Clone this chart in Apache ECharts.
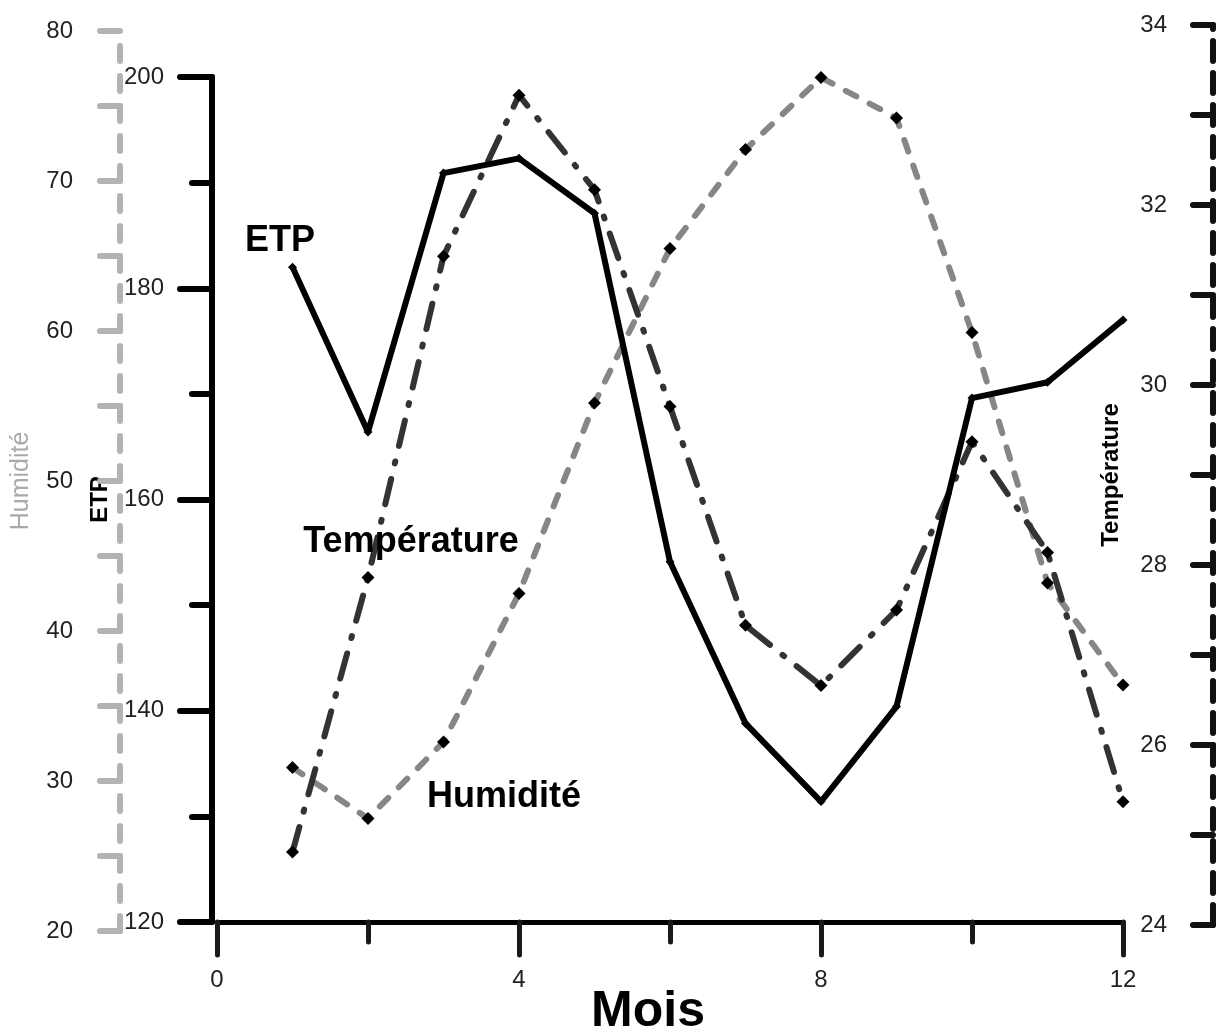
<!DOCTYPE html>
<html><head><meta charset="utf-8">
<script src="https://cdn.jsdelivr.net/npm/echarts@6/dist/echarts.min.js"></script>
<style>html,body{margin:0;padding:0;background:#fff}#c{width:1216px;height:1032px}</style>
</head><body><div id="c"></div>
<script>
// ---- data ----
const months = [1,2,3,4,5,6,7,8,9,10,11,12];
const etp = [182.0,166.4,190.9,192.3,187.1,154.1,138.8,131.4,140.4,169.6,171.1,177.0];
const humidite = [30.9,27.5,32.6,42.5,55.2,65.5,72.1,76.9,74.2,59.9,43.2,36.4];
const temperature = [24.81,27.86,31.43,33.22,32.17,29.76,27.33,26.66,27.5,29.37,28.14,25.37];

// axis ranges / tick steps
const xRange = [0, 12], xStep = 4;
const etpRange = [120, 200], etpStep = 20;
const humRange = [20, 80], humStep = 10;
const tempRange = [24, 34], tempStep = 2;

const FONT = 'Liberation Sans, Arial, sans-serif';
const pairs = arr => months.map((m, i) => [m, arr[i]]);

const chart = echarts.init(document.getElementById('c'), null, {renderer: 'canvas'});

const gridBase = {left: 217, right: 93, containLabel: false, outerBoundsMode: 'none'};

const option = {
  animation: false,
  backgroundColor: '#fff',
  textStyle: {fontFamily: FONT},
  grid: [
    Object.assign({top: 77, height: 845}, gridBase),
    Object.assign({top: 31, height: 900}, gridBase),
    Object.assign({top: 25, height: 900}, gridBase)
  ],
  xAxis: [
    {
      gridIndex: 0, type: 'value', min: xRange[0], max: xRange[1], interval: xStep,
      axisLine: {onZero: false, lineStyle: {color: '#000', width: 5}},
      axisTick: {length: 33, lineStyle: {color: '#1a1a1a', width: 5, cap: 'round'}},
      minorTick: {show: true, splitNumber: 2, length: 20, lineStyle: {color: '#1a1a1a', width: 5, cap: 'round'}},
      axisLabel: {fontSize: 24, color: '#222', margin: 46, fontFamily: FONT},
      splitLine: {show: false}
    },
    {gridIndex: 1, type: 'value', min: xRange[0], max: xRange[1], show: false},
    {gridIndex: 2, type: 'value', min: xRange[0], max: xRange[1], show: false}
  ],
  yAxis: [
    {
      gridIndex: 0, type: 'value', position: 'left', offset: 5,
      min: etpRange[0], max: etpRange[1], interval: etpStep,
      axisLine: {show: true, onZero: false, lineStyle: {color: '#000', width: 6}},
      axisTick: {show: true, length: 32, lineStyle: {color: '#000', width: 6, cap: 'round'}},
      minorTick: {show: true, splitNumber: 2, length: 20, lineStyle: {color: '#000', width: 6, cap: 'round'}},
      axisLabel: {fontSize: 24, color: '#222', margin: 48, fontFamily: FONT},
      splitLine: {show: false},
      name: 'ETP', nameLocation: 'middle', nameRotate: 90, nameGap: 100,
      nameTextStyle: {fontSize: 24, fontWeight: 'bold', color: '#000', fontFamily: FONT}
    },
    {
      gridIndex: 1, type: 'value', position: 'left', offset: 97,
      min: humRange[0], max: humRange[1], interval: humStep,
      axisLine: {show: true, onZero: false, lineStyle: {color: '#b3b3b3', width: 6, type: [15, 15], cap: 'round'}},
      axisTick: {show: true, length: 20, lineStyle: {color: '#b3b3b3', width: 6, cap: 'round'}},
      minorTick: {show: true, splitNumber: 2, length: 20, lineStyle: {color: '#b3b3b3', width: 6, cap: 'round'}},
      axisLabel: {fontSize: 24, color: '#222', margin: 47, fontFamily: FONT},
      splitLine: {show: false},
      name: 'Humidité', nameLocation: 'middle', nameRotate: 90, nameGap: 86,
      nameTextStyle: {fontSize: 25, color: '#aaaaaa', fontFamily: FONT}
    },
    {
      gridIndex: 2, type: 'value', position: 'right', offset: 90,
      min: tempRange[0], max: tempRange[1], interval: tempStep,
      axisLine: {show: true, onZero: false, lineStyle: {color: '#111', width: 6, type: [20, 12], cap: 'round'}},
      axisTick: {show: true, inside: true, length: 20, lineStyle: {color: '#111', width: 6, cap: 'round'}},
      minorTick: {show: true, splitNumber: 2, length: 20, lineStyle: {color: '#111', width: 6, cap: 'round'}},
      axisLabel: {inside: true, fontSize: 24, color: '#222', margin: 46, fontFamily: FONT},
      splitLine: {show: false},
      name: 'Température', nameLocation: 'middle', nameRotate: 90, nameGap: -114,
      nameTextStyle: {fontSize: 24, fontWeight: 'bold', color: '#000', fontFamily: FONT}
    }
  ],
  series: [
    {
      name: 'Humidité', type: 'line', xAxisIndex: 1, yAxisIndex: 1, z: 2,
      data: pairs(humidite),
      symbol: 'diamond', symbolSize: 13, showAllSymbol: true,
      itemStyle: {color: '#000'},
      lineStyle: {color: '#868686', width: 6, type: [12, 15], cap: 'round'}
    },
    {
      name: 'Température', type: 'line', xAxisIndex: 2, yAxisIndex: 2, z: 3,
      data: pairs(temperature),
      symbol: 'diamond', symbolSize: 13, showAllSymbol: true,
      itemStyle: {color: '#000'},
      lineStyle: {color: '#333333', width: 6, type: [26, 16, 2, 16], cap: 'round'}
    },
    {
      name: 'ETP', type: 'line', xAxisIndex: 0, yAxisIndex: 0, z: 4,
      data: pairs(etp),
      symbol: 'diamond', symbolSize: 9, showAllSymbol: true,
      itemStyle: {color: '#000'},
      lineStyle: {color: '#000', width: 6}
    }
  ],
  graphic: [
    {type: 'text', x: 280, y: 241, z: 10, style: {text: 'ETP', fontSize: 36, fontWeight: 'bold', fontFamily: FONT, fill: '#000', align: 'center', verticalAlign: 'middle'}},
    {type: 'text', x: 411, y: 542, z: 10, style: {text: 'Température', fontSize: 36, fontWeight: 'bold', fontFamily: FONT, fill: '#000', align: 'center', verticalAlign: 'middle'}},
    {type: 'text', x: 504, y: 797, z: 10, style: {text: 'Humidité', fontSize: 36, fontWeight: 'bold', fontFamily: FONT, fill: '#000', align: 'center', verticalAlign: 'middle'}},
    {type: 'text', x: 648, y: 1012, z: 10, style: {text: 'Mois', fontSize: 50, fontWeight: 'bold', fontFamily: FONT, fill: '#000', align: 'center', verticalAlign: 'middle'}}
  ]
};
chart.setOption(option);
</script>
</body></html>
